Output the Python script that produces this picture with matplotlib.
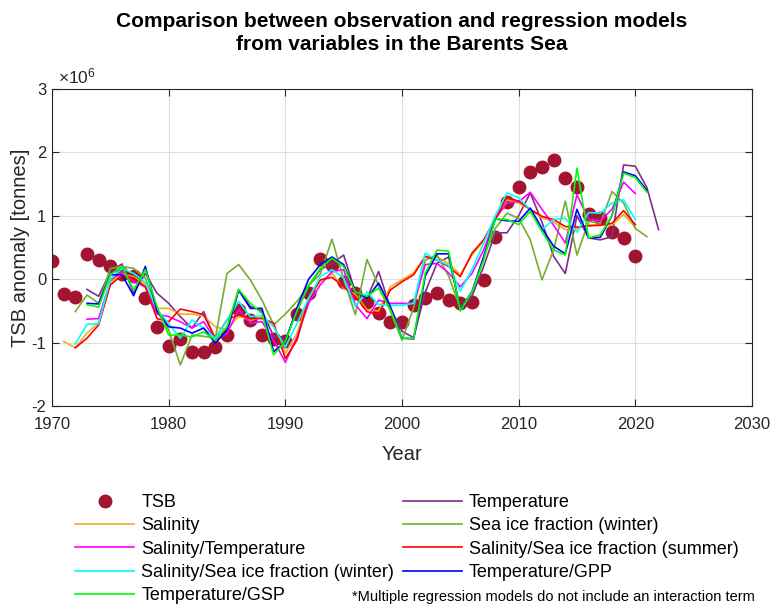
import numpy as np
import matplotlib
matplotlib.use("Agg")
import matplotlib.pyplot as plt

plt.rcParams['font.family'] = ['Liberation Sans', 'DejaVu Sans']
plt.rcParams['mathtext.default'] = 'regular'
plt.rcParams['axes.unicode_minus'] = False

# all values in units of 1e6 tonnes
tsb_years = list(range(1970, 2021))
tsb = [0.28, -0.23, -0.28, 0.39, 0.30, 0.21, 0.08, 0.05, -0.30, -0.76,
       -1.05, -0.94, -1.14, -1.14, -1.07, -0.88, -0.48, -0.64, -0.88, -0.94,
       -0.98, -0.55, -0.21, 0.32, 0.22, -0.05, -0.22, -0.36, -0.54, -0.68,
       -0.67, -0.41, -0.29, -0.21, -0.33, -0.37, -0.36, -0.02, 0.66, 1.22,
       1.45, 1.69, 1.76, 1.87, 1.60, 1.45, 1.03, 0.96, 0.75, 0.65,
       0.36]

temperature_years = list(range(1973, 2023))
temperature = [-0.16, -0.27, 0.12, 0.24, -0.22, 0.09, -0.22,
               -0.38, -0.59, -0.77, -0.51, -0.96, -0.85, -0.17, -0.43, -0.50, -0.90,
               -0.96, -0.50, -0.10, 0.15, 0.25, 0.38, -0.20, -0.30, 0.12, -0.45,
               -0.82, -0.92, -0.20, 0.25, 0.35, -0.45, -0.27, 0.20, 0.73, 0.73,
               1.00, 1.36, 0.90, 0.36, 0.09, 1.00, 0.65, 0.62, 0.67, 1.80,
               1.78, 1.44, 0.78]

salinity_years = list(range(1971, 2021))
salinity = [-0.98, -1.08, -0.85, -0.68, -0.05, 0.08, 0.04, -0.08, -0.46,
            -0.46, -0.55, -0.55, -0.58, -0.75, -0.80, -0.58, -0.65, -0.60, -0.74,
            -1.17, -0.85, -0.30, -0.03, 0.09, -0.14, -0.24, -0.48, -0.50, -0.12,
            -0.01, 0.10, 0.35, 0.35, 0.25, 0.07, 0.38, 0.60, 0.95, 1.25,
            1.20, 1.10, 0.97, 0.90, 0.78, 0.79, 0.86, 0.85, 0.85, 1.02,
            0.82]

seaice_w_years = list(range(1972, 2022))
seaice_w = [-0.51, -0.25, -0.38, 0.17, 0.20, 0.17, 0.02, -0.50,
            -0.80, -1.35, -0.88, -0.90, -0.93, 0.09, 0.23, -0.01, -0.33, -0.72,
            -0.55, -0.35, -0.10, 0.08, 0.63, 0.00, -0.56, 0.31, -0.10, -0.50,
            -0.96, -0.45, 0.30, 0.38, 0.05, -0.46, -0.20, 0.35, 0.80, 1.04,
            0.96, 0.62, -0.01, 0.46, 1.23, 0.38, 0.91, 0.88, 1.38, 1.20,
            0.80, 0.67]

sal_temp_years = list(range(1973, 2021))
sal_temp = [-0.63, -0.62, -0.02, 0.12, -0.04, -0.12, -0.55,
            -0.59, -0.67, -0.77, -0.67, -0.96, -0.85, -0.48, -0.69, -0.67, -0.96,
            -1.31, -0.91, -0.38, -0.09, 0.12, 0.15, -0.40, -0.62, -0.33, -0.38,
            -0.38, -0.38, 0.23, 0.25, 0.10, -0.12, 0.09, 0.46, 0.95, 1.20,
            1.22, 1.37, 1.10, 0.85, 0.57, 1.33, 0.94, 0.92, 1.10, 1.53,
            1.35]

sal_ice_s_years = list(range(1972, 2021))
sal_ice_s = [-1.08, -0.93, -0.72, -0.09, 0.06, 0.02, -0.12, -0.62,
             -0.67, -0.47, -0.51, -0.56, -0.93, -0.64, -0.56, -0.62, -0.62, -0.69,
             -1.25, -0.96, -0.30, -0.01, 0.03, -0.12, -0.27, -0.51, -0.56, -0.17,
             -0.04, 0.07, 0.36, 0.30, 0.20, 0.04, 0.41, 0.62, 0.95, 1.29,
             1.23, 1.10, 0.99, 0.94, 0.83, 0.82, 0.84, 0.85, 0.88, 1.08,
             0.86]

sal_ice_w_years = list(range(1972, 2021))
sal_ice_w = [-1.02, -0.71, -0.70, 0.00, 0.17, 0.09, -0.05, -0.48,
             -0.70, -0.93, -0.64, -0.77, -0.93, -0.64, -0.35, -0.59, -0.58, -0.75,
             -1.07, -0.70, -0.30, 0.04, 0.15, 0.02, -0.43, -0.20, -0.40, -0.41,
             -0.41, -0.38, 0.41, 0.30, 0.22, -0.19, 0.15, 0.57, 1.00, 1.36,
             1.28, 1.10, 0.78, 0.94, 0.96, 0.74, 1.05, 1.04, 1.20, 1.25,
             0.94]

temp_gpp_years = list(range(1973, 2022))
temp_gpp = [-0.38, -0.39, 0.07, 0.07, -0.26, 0.20, -0.50,
            -0.75, -0.77, -0.85, -0.77, -1.01, -0.80, -0.17, -0.46, -0.46, -1.14,
            -0.99, -0.45, 0.00, 0.23, 0.35, 0.23, -0.19, -0.30, -0.06, -0.43,
            -0.93, -0.94, 0.05, 0.40, 0.40, -0.48, -0.20, 0.35, 0.95, 0.92,
            0.91, 1.12, 0.80, 0.52, 0.40, 1.10, 0.65, 0.66, 1.00, 1.69,
            1.63, 1.40]

temp_gsp_years = list(range(1973, 2022))
temp_gsp = [-0.40, -0.44, 0.07, 0.20, -0.17, 0.15, -0.43,
            -0.88, -0.88, -0.91, -0.83, -0.96, -0.75, -0.16, -0.38, -0.54, -1.19,
            -0.98, -0.50, -0.10, 0.17, 0.33, 0.20, -0.20, -0.27, -0.14, -0.48,
            -0.93, -0.93, 0.10, 0.46, 0.44, -0.50, -0.20, 0.30, 0.95, 0.94,
            0.86, 1.07, 0.75, 0.46, 0.38, 1.75, 0.65, 0.70, 1.00, 1.67,
            1.60, 1.37]

fig = plt.figure(figsize=(7.76, 6.08), dpi=100)
ax = fig.add_axes([0.067, 0.332, 0.902, 0.522])

h_tsb, = ax.plot(tsb_years, tsb, 'o', color='#A2142F', ms=9, label='TSB')
h_temp, = ax.plot(temperature_years, temperature, color='#7E2F8E', lw=1.2, label='Temperature')
h_sal, = ax.plot(salinity_years, salinity, color='#EDB120', lw=1.2, label='Salinity')
h_ice, = ax.plot(seaice_w_years, seaice_w, color='#77AC30', lw=1.2, label='Sea ice fraction (winter)')
h_st, = ax.plot(sal_temp_years, sal_temp, color='#FF00FF', lw=1.2, label='Salinity/Temperature')
h_ss, = ax.plot(sal_ice_s_years, sal_ice_s, color='#FF0000', lw=1.2, label='Salinity/Sea ice fraction (summer)')
h_sw, = ax.plot(sal_ice_w_years, sal_ice_w, color='#00FFFF', lw=1.2, label='Salinity/Sea ice fraction (winter)')
h_gpp, = ax.plot(temp_gpp_years, temp_gpp, color='#0000FF', lw=1.2, label='Temperature/GPP')
h_gsp, = ax.plot(temp_gsp_years, temp_gsp, color='#00FF00', lw=1.2, label='Temperature/GSP')

ax.set_xlim(1970, 2030)
ax.set_ylim(-2, 3)
ax.set_xticks(range(1970, 2031, 10))
ax.set_yticks(range(-2, 4))
ax.grid(True, color='#DEDEDE', lw=0.8)
ax.set_axisbelow(True)
ax.tick_params(direction='in', top=True, right=True, labelsize=12, colors='#262626', length=5)
ax.tick_params(axis='x', pad=8)
ax.tick_params(axis='y', pad=4)
for s in ax.spines.values():
    s.set_color('#262626')
    s.set_linewidth(0.8)

ax.set_xlabel('Year', fontsize=14.5, color='#262626', labelpad=9)
ax.set_ylabel('TSB anomaly [tonnes]', fontsize=14.5, color='#262626', labelpad=1)
ax.text(0.008, 1.018, r'$\times10^{6}$', transform=ax.transAxes, fontsize=12.5, color='#262626')
ax.set_title('Comparison between observation and regression models\nfrom variables in the Barents Sea',
             fontsize=15, fontweight='bold', pad=28, linespacing=1.28)

handles = [h_tsb, h_sal, h_st, h_sw, h_gsp, h_temp, h_ice, h_ss, h_gpp]
fig.legend(handles=handles, ncol=2, frameon=False, loc='upper left',
           bbox_to_anchor=(0.076, 0.214), bbox_transform=fig.transFigure,
           fontsize=13, handlelength=3.25, handletextpad=0.4, columnspacing=0.5,
           labelspacing=0.35)

fig.text(0.454, 0.018, '*Multiple regression models do not include an interaction term',
         fontsize=10.5, color='black', va='center')

fig.savefig('out.png', dpi=100)
